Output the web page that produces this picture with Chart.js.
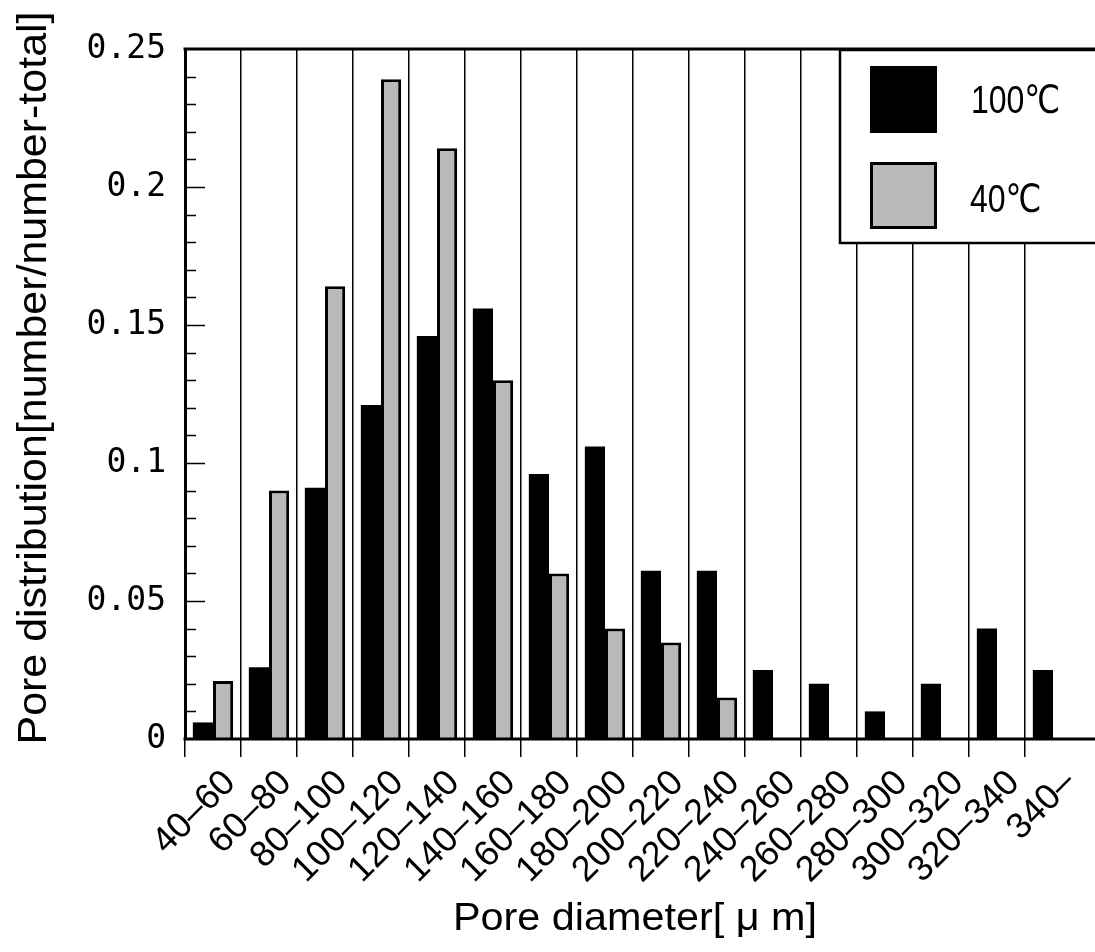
<!DOCTYPE html>
<html>
<head>
<meta charset="utf-8">
<script src="https://cdn.jsdelivr.net/npm/chart.js@4/dist/chart.umd.min.js"></script>
<style>
  html, body { margin: 0; padding: 0; background: #fff; overflow: hidden; }
  canvas { display: block; }
</style>
</head>
<body>
<canvas id="c" width="1095" height="952"></canvas>
<script>
// ---- data ----
const categories = ['40–60','60–80','80–100','100–120','120–140','140–160','160–180','180–200','200–220','220–240','240–260','260–280','280–300','300–320','320–340','340–'];
const series100C = [0.006, 0.026, 0.091, 0.121, 0.146, 0.156, 0.096, 0.106, 0.061, 0.061, 0.025, 0.020, 0.010, 0.020, 0.040, 0.025];
const series40C  = [0.021, 0.090, 0.164, 0.239, 0.214, 0.130, 0.060, 0.040, 0.035, 0.015, null, null, null, null, null, null];
const seriesLabels = ['100℃', '40℃'];
const yTickValues = [0, 0.05, 0.1, 0.15, 0.2, 0.25];
const xTitleText = 'Pore diameter[ μ m]';
const yTitleText = 'Pore distribution[number/number-total]';

// ---- styles ----
const SANS = '"Liberation Sans", Arial, "DejaVu Sans", "Noto Sans CJK JP", sans-serif';
const MONO = '"DejaVu Sans Mono", "Liberation Mono", monospace';
const GRAY = '#b9b9b9';

const decor = {
  id: 'decor',
  afterDatasetsDraw(chart) {
    const {ctx, chartArea} = chart;
    const y = chart.scales.y;
    ctx.save();
    ctx.strokeStyle = '#000';
    // top frame line and x axis line
    ctx.lineWidth = 3;
    ctx.beginPath();
    ctx.moveTo(chartArea.left - 1.5, y.getPixelForValue(0.25));
    ctx.lineTo(chart.width, y.getPixelForValue(0.25));
    ctx.moveTo(chartArea.left - 1.5, y.getPixelForValue(0));
    ctx.lineTo(chart.width, y.getPixelForValue(0));
    ctx.stroke();
    // inward y ticks (minor every 0.01, major every 0.05)
    ctx.lineWidth = 1.5;
    ctx.beginPath();
    for (let i = 1; i < 25; i++) {
      const py = Math.round(y.getPixelForValue(i / 100)) + 0.5;
      const len = (i % 5 === 0) ? 20 : 11;
      ctx.moveTo(chartArea.left, py);
      ctx.lineTo(chartArea.left + len, py);
    }
    ctx.stroke();
    ctx.restore();
  },
  afterDraw(chart) {
    const {ctx} = chart;
    ctx.save();
    // legend
    const ds = chart.data.datasets;
    ctx.fillStyle = '#fff';
    ctx.fillRect(840, 50, 260, 193);
    ctx.strokeStyle = '#000';
    ctx.lineWidth = 2.5;
    ctx.strokeRect(840, 50, 270, 193);
    ctx.fillStyle = ds[0].backgroundColor;
    ctx.fillRect(870, 66, 67, 67);
    ctx.fillStyle = ds[1].backgroundColor;
    ctx.fillRect(870, 162, 67, 67);
    ctx.lineWidth = 3;
    ctx.strokeRect(871.5, 163.5, 64, 64);
    ctx.fillStyle = '#000';
    ctx.font = '39px ' + SANS;
    ctx.textAlign = 'left';
    ctx.textBaseline = 'alphabetic';
    [[ds[0].label, 971, 113], [ds[1].label, 970, 212]].forEach(([t, x, yb]) => {
      ctx.save();
      ctx.translate(x, yb);
      ctx.scale(0.82, 1);
      ctx.fillText(t, 0, 0);
      ctx.restore();
    });

    // y axis title (rotated, stretched to the reference length)
    ctx.font = '40px ' + SANS;
    let w = ctx.measureText(yTitleText).width;
    ctx.save();
    ctx.translate(46, 378);
    ctx.rotate(-Math.PI / 2);
    ctx.scale(733 / w, 1);
    ctx.textAlign = 'center';
    ctx.fillText(yTitleText, 0, 0);
    ctx.restore();

    // x axis title
    ctx.font = '39px ' + SANS;
    w = ctx.measureText(xTitleText).width;
    ctx.save();
    ctx.translate(635, 930);
    ctx.scale(364 / w, 1);
    ctx.textAlign = 'center';
    ctx.fillText(xTitleText, 0, 0);
    ctx.restore();
    ctx.restore();
  }
};

new Chart(document.getElementById('c'), {
  type: 'bar',
  data: {
    labels: categories,
    datasets: [
      { label: seriesLabels[0], data: series100C, backgroundColor: '#000', borderWidth: 0 },
      { label: seriesLabels[1], data: series40C, backgroundColor: GRAY, borderColor: '#000', borderWidth: 3 }
    ]
  },
  options: {
    responsive: false,
    animation: false,
    devicePixelRatio: 1,
    layout: { padding: { left: 0, right: 14, top: 49, bottom: 0 } },
    datasets: { bar: { categoryPercentage: 0.72, barPercentage: 1.0 } },
    plugins: { legend: { display: false }, tooltip: { enabled: false }, title: { display: false } },
    scales: {
      x: {
        offset: true,
        grid: {
          offset: true,
          color: (c) => c.type === 'tick' ? '#000' : 'rgba(0,0,0,0)',
          lineWidth: 1.5,
          tickLength: 18,
          drawOnChartArea: true
        },
        border: { display: false },
        ticks: {
          autoSkip: false,
          minRotation: 45,
          maxRotation: 45,
          labelOffset: 17,
          padding: 5,
          color: '#000',
          font: { family: SANS, size: 36 }
        },
        title: { display: false },
        afterFit: (s) => { s.height = 952 - 739; }
      },
      y: {
        min: 0,
        max: 0.25,
        afterBuildTicks: (s) => { s.ticks = yTickValues.map(v => ({ value: v })); },
        grid: { display: true, drawOnChartArea: false, drawTicks: false },
        border: { display: true, color: '#000', width: 3 },
        ticks: {
          padding: 19,
          color: '#000',
          font: { family: MONO, size: 33 },
          callback: (v) => String(+Number(v).toFixed(2))
        },
        title: { display: false },
        afterFit: (s) => { s.width = 185; }
      }
    }
  },
  plugins: [decor]
});
</script>
</body>
</html>
